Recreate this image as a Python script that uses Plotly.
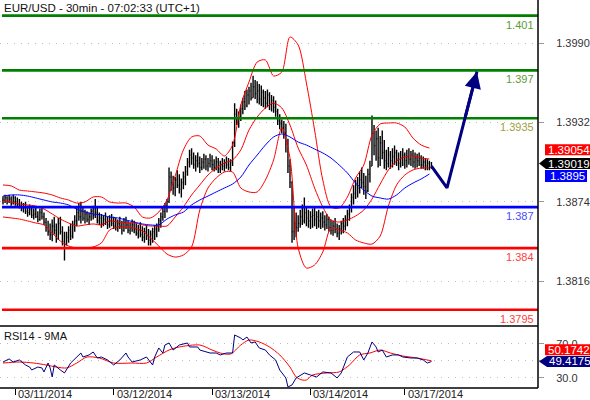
"""EUR/USD 30min chart with Bollinger bands, MA, levels and RSI panel."""

import plotly.graph_objects as go

# price values are kept in pips above BASE (1.3800)
BASE = 1.38

DATES = ["03/11/2014", "03/12/2014", "03/13/2014", "03/14/2014", "03/17/2014"]
DATE_BARS = [6, 54, 102, 150, 196]

HIGHS = [78, 79, 78, 79, 78, 79, 78, 77, 76,
         74, 73, 74, 71, 72, 70, 69, 70, 67, 69, 70, 66,
         62, 60, 58, 61, 63, 58, 62, 63, 56, 52,
         52, 56, 58, 60, 64, 70, 73, 74,
         70, 68, 67, 66, 69, 71, 76, 70,
         66, 65, 64, 66, 63, 64, 65, 63, 62,
         61, 63, 60, 62, 63, 60, 59, 61, 60,
         58, 57, 59, 56, 55, 57, 54, 53,
         55, 57, 58, 62, 66, 70, 73, 76,
         99, 96, 93, 92, 97, 94, 91, 96, 100,
         106, 112, 113,
         110, 108, 110, 107, 106, 109, 108, 106, 109, 108, 105, 107, 106, 104, 106, 105, 107, 106, 105,
         118, 146, 142, 140, 145, 150, 155,
         156, 158, 161, 166, 163, 162, 160, 159,
         156, 155, 156, 154, 152, 151, 148,
         142, 138, 134, 133,
         131, 120, 105,
         89, 70, 66,
         64, 68, 72, 77, 70, 68, 67,
         69, 70, 67, 68, 66, 67, 64, 65, 63,
         61, 60, 62, 58, 57, 60, 62, 64,
         68, 72, 80, 86, 90,
         92, 96, 99, 95, 93, 98, 104,
         137, 130, 126, 128, 122, 126, 119,
         112, 114, 111, 113, 115, 112, 110,
         111, 113, 110, 112, 113, 111, 112, 110,
         109, 110, 108, 107, 106, 105, 104, 103]
LOWS = [72, 73, 72, 73, 71, 72, 71, 70, 69,
        67, 66, 65, 63, 64, 62, 61, 62, 59, 60, 61, 57,
        52, 49, 46, 45, 50, 44, 46, 50, 42, 31,
        42, 44, 46, 47, 52, 56, 60, 58,
        60, 58, 59, 57, 60, 61, 62, 58,
        57, 55, 56, 57, 54, 55, 56, 54, 53,
        52, 54, 50, 52, 54, 51, 50, 52, 51,
        49, 47, 48, 45, 44, 46, 42, 42,
        44, 46, 48, 52, 55, 60, 62, 66,
        73, 82, 79, 78, 84, 80, 77, 83, 86,
        93, 99, 101,
        98, 96, 99, 95, 97, 98, 97, 96, 99, 97, 96, 97, 95, 95, 97, 96, 98, 97, 96,
        100, 114, 130, 128, 133, 138, 141,
        143, 145, 148, 150, 149, 146, 145, 144,
        143, 142, 143, 141, 140, 139, 136,
        130, 127, 124, 120,
        110, 95, 84,
        44, 46, 48,
        52, 55, 57, 58, 56, 55, 54,
        55, 56, 54, 55, 54, 55, 53, 54, 52,
        50, 49, 51, 48, 46, 50, 51, 53,
        56, 60, 66, 72, 76,
        77, 80, 84, 79, 76, 81, 88,
        100, 108, 104, 99, 100, 105, 98,
        97, 99, 98, 99, 101, 100, 97,
        99, 100, 98, 99, 101, 100, 99, 98,
        99, 100, 98, 98, 97, 97, 97, 98]
CLOSES = [75, 77, 74, 76, 73, 77, 74, 72, 71,
          69, 70, 67, 66, 68, 64, 65, 63, 61, 66, 63, 59,
          55, 52, 50, 56, 53, 47, 58, 52, 45, 43,
          48, 53, 49, 57, 60, 66, 63, 67,
          62, 65, 61, 63, 67, 64, 66, 60,
          62, 58, 61, 59, 57, 60, 58, 56, 55,
          58, 56, 53, 59, 57, 53, 55, 57, 54,
          51, 53, 50, 48, 52, 49, 46, 50,
          52, 54, 56, 60, 63, 67, 71, 74,
          92, 88, 84, 90, 86, 83, 88, 92, 96,
          103, 108, 106,
          101, 104, 102, 99, 103, 105, 100, 102, 104, 101, 99, 103, 98, 101, 100, 102, 101, 99, 103,
          115, 138, 134, 136, 142, 147, 144,
          152, 155, 150, 158, 153, 155, 149, 154,
          150, 146, 152, 145, 148, 143, 140,
          133, 131, 128, 124,
          116, 100, 88,
          52, 58, 55,
          58, 63, 60, 66, 62, 60, 63,
          64, 61, 63, 60, 62, 59, 57, 61, 55,
          53, 56, 54, 51, 54, 58, 56, 61,
          65, 70, 77, 80, 86,
          84, 90, 88, 85, 82, 94, 100,
          124, 115, 120, 106, 117, 110, 104,
          102, 108, 104, 107, 110, 105, 102,
          106, 108, 104, 107, 105, 108, 103, 106,
          104, 106, 101, 103, 100, 102, 99, 100]

# indicator lines read every 4 bars
BAND_BARS = list(range(0, 209, 4))
BB_UPPER = [86.2, 85.5, 82.5, 81.8, 81.1, 80.3, 78.9, 76.7, 75.2, 73.0,
            73.8, 77.4, 77.4, 73.8, 73.0, 73.0, 70.1, 62.8, 62.1, 66.4,
            75.2, 92.8, 111.8, 121.3, 122.0, 115.4, 112.5, 107.4, 115.4, 144.7,
            161.5, 176.1, 177.6, 165.9, 168.8, 194.4, 188.5, 160.8, 126.4, 89.8,
            70.1, 69.4, 77.4, 91.3, 100.8, 122.7, 130.8, 131.5, 131.5, 128.6,
            120.5, 115.4, 113.2]
BB_MID = [74.5, 73.8, 72.3, 71.6, 70.8, 68.6, 65.0, 61.3, 58.4, 56.2,
          57.0, 57.7, 57.0, 59.9, 59.1, 58.4, 58.4, 57.0, 56.2, 56.2,
          56.2, 62.8, 70.1, 78.9, 86.2, 93.5, 98.6, 102.3, 104.5, 111.8,
          126.4, 135.9, 142.5, 146.1, 142.5, 130.0, 113.2, 100.8, 84.0, 70.1,
          60.6, 59.1, 60.6, 63.5, 67.9, 75.9, 86.9, 97.2, 103.7, 106.7,
          107.4, 105.9, 105.2]
BB_LOWER = [62.8, 62.1, 61.3, 59.9, 58.4, 57.0, 51.1, 45.2, 41.6, 40.1,
            40.1, 40.9, 43.8, 53.3, 55.5, 55.5, 54.7, 52.6, 47.4, 41.6,
            35.7, 33.5, 35.0, 40.9, 67.9, 84.0, 91.3, 95.7, 95.7, 84.0,
            81.1, 81.1, 89.8, 104.5, 127.9, 105.9, 40.1, 25.5, 27.7, 37.2,
            54.7, 53.3, 51.1, 46.0, 43.8, 43.0, 48.9, 70.8, 86.2, 93.5,
            97.2, 98.6, 98.6]
MA_BLUE = [78.1, 78.9, 78.9, 78.1, 76.7, 75.2, 73.8, 73.0, 71.6, 68.6,
           66.4, 65.0, 64.3, 62.8, 62.1, 60.6, 59.1, 57.7, 57.0, 57.0,
           61.3, 64.3, 66.4, 71.6, 75.2, 78.1, 81.1, 84.0, 86.9, 92.0,
           100.8, 108.1, 115.4, 121.3, 123.5, 121.3, 117.6, 115.4, 112.5, 109.6,
           105.9, 100.8, 95.0, 87.6, 82.5, 78.1, 76.7, 75.9, 78.9, 84.0,
           87.6, 90.6, 94.2]

RSI_BARS = [0, 3, 5, 8, 11, 13, 14, 17, 19, 20, 22, 23, 24, 25, 28, 30, 33, 36, 38, 39,
            42, 44, 46, 48, 51, 54, 57, 60, 61, 63, 67, 70, 73, 74, 76, 78, 79, 81, 83, 86,
            90, 91, 95, 96, 99, 101, 104, 106, 109, 112, 113, 116, 117, 119, 121, 123, 125, 128, 130, 133,
            135, 138, 139, 141, 143, 147, 150, 153, 156, 160, 163, 165, 168, 171, 174, 176, 178, 180, 182, 183,
            185, 187, 190, 193, 195, 199, 202, 205, 207, 209]
RSI = [48.8, 52.4, 48.8, 51.2, 45.3, 42.9, 39.4, 42.9, 41.8, 37.1,
       47.6, 41.8, 31.2, 45.3, 39.4, 35.9, 47.6, 54.7, 59.4, 54.7,
       57.1, 60.6, 53.5, 54.7, 51.2, 45.3, 51.2, 59.4, 54.7, 48.8,
       51.2, 54.7, 45.3, 54.7, 65.3, 59.4, 68.8, 71.2, 62.9, 68.8,
       71.2, 66.5, 66.5, 62.9, 60.6, 59.4, 59.4, 57.1, 59.4, 59.4,
       80.6, 77.1, 74.7, 78.2, 71.2, 72.4, 65.3, 62.9, 57.1, 51.2,
       39.4, 30.0, 19.4, 21.8, 30.0, 35.9, 33.5, 31.2, 37.1, 35.9,
       30.0, 35.9, 54.7, 60.6, 60.6, 51.2, 59.4, 72.4, 66.5, 60.6,
       62.9, 54.7, 57.1, 57.1, 54.7, 53.5, 53.5, 51.2, 47.6, 49.4]
RSI_MA_BARS = [0, 8, 15, 21, 26, 31, 36, 41, 47, 54, 63, 70, 75, 81, 86, 96, 102, 106, 111, 116,
               120, 125, 130, 135, 140, 143, 146, 148, 151, 158, 164, 169, 174, 179, 184, 189, 195, 202, 209]
RSI_MA = [47.6, 48.8, 47.6, 45.3, 42.9, 41.8, 47.6, 54.7, 53.5, 47.6,
          47.6, 47.6, 54.7, 62.9, 66.5, 68.8, 62.9, 59.4, 58.2, 68.8,
          74.7, 72.4, 66.5, 57.1, 42.9, 31.2, 27.6, 27.6, 33.5, 35.9,
          37.1, 45.3, 57.1, 59.4, 62.9, 59.4, 55.9, 53.5, 50.2]

LEVELS = [1.401, 1.397, 1.3935, 1.387, 1.384, 1.3795]
LEVEL_COLORS = ["#008000", "#008000", "#008000", "#0000ff", "#ff0000", "#ff0000"]
LEVEL_TEXT = ["#5f9a36", "#5f9a36", "#a0a040", "#4a4aff", "#ff4040", "#ff4040"]

FORECAST_BARS = [209, 216.6, 231.2]
FORECAST_PIPS = [100, 84, 169]

PRICE_TICKS = [1.3816, 1.3874, 1.3932, 1.3990]
LAST_MID = 1.39054
LAST_CLOSE = 1.39019
LAST_MA = 1.3895
LAST_RSI_MA = 50.1742
LAST_RSI = 49.4175

X_RANGE = [-1.46, 260.98]
Y_RANGE = [1.37831, 1.402144]
RSI_RANGE = [18.2, 90.0]
FONT = "Liberation Sans, Arial, sans-serif"


def price(vals):
    return [BASE + v / 10000 for v in vals]


bars = list(range(len(CLOSES)))
opens = [CLOSES[0]] + CLOSES[:-1]

fig = go.Figure()
for series, color in [(BB_UPPER, "#ff0000"), (BB_MID, "#ff0000"),
                      (BB_LOWER, "#ff0000"), (MA_BLUE, "#0000ff")]:
    fig.add_scatter(x=BAND_BARS, y=price(series), mode="lines",
                    line=dict(color=color, width=1, shape="spline", smoothing=0.8),
                    hoverinfo="skip", showlegend=False)

fig.add_trace(go.Ohlc(
    x=bars, open=price(opens), high=price(HIGHS), low=price(LOWS), close=price(CLOSES),
    increasing_line_color="black", decreasing_line_color="black",
    line_width=1.4, tickwidth=0.4, showlegend=False, hoverinfo="skip",
))

for lvl, col, tcol in zip(LEVELS, LEVEL_COLORS, LEVEL_TEXT):
    fig.add_scatter(x=[-0.5, X_RANGE[1]], y=[lvl, lvl], mode="lines",
                    line=dict(color=col, width=2.6), hoverinfo="skip", showlegend=False)
    fig.add_annotation(x=X_RANGE[1], y=lvl, xref="x", yref="y", text=str(lvl),
                       showarrow=False, xanchor="right", yanchor="top", xshift=-2, yshift=-1,
                       font=dict(color=tcol, size=11, family=FONT))

# forecast path with arrow head
fig.add_scatter(x=FORECAST_BARS, y=price(FORECAST_PIPS), mode="lines",
                line=dict(color="#000080", width=3), hoverinfo="skip", showlegend=False)
tail_x = FORECAST_BARS[1] + 0.6 * (FORECAST_BARS[2] - FORECAST_BARS[1])
tail_y = FORECAST_PIPS[1] + 0.6 * (FORECAST_PIPS[2] - FORECAST_PIPS[1])
fig.add_annotation(x=FORECAST_BARS[2], y=price([FORECAST_PIPS[2]])[0],
                   ax=tail_x, ay=price([tail_y])[0], axref="x", ayref="y",
                   xref="x", yref="y", text="", showarrow=True, arrowhead=2,
                   arrowsize=1.1, arrowwidth=3, arrowcolor="#000080", standoff=0)

# RSI panel
fig.add_scatter(x=RSI_MA_BARS, y=RSI_MA, yaxis="y2", mode="lines",
                line=dict(color="#ff0000", width=1, shape="spline", smoothing=0.8),
                hoverinfo="skip", showlegend=False)
fig.add_scatter(x=RSI_BARS, y=RSI, yaxis="y2", mode="lines",
                line=dict(color="#000080", width=1), hoverinfo="skip", showlegend=False)


def value_box(yref, value, text, dy, x0, x1, h, color, arrow=False):
    top, bot = dy + h / 2, dy - h / 2
    if arrow:
        path = f"M 1,{dy} L {x0},{top} L {x1},{top} L {x1},{bot} L {x0},{bot} Z"
    else:
        path = f"M {x0},{top} L {x1},{top} L {x1},{bot} L {x0},{bot} Z"
    fig.add_shape(type="path", path=path, xref="paper", yref=yref,
                  xsizemode="pixel", ysizemode="pixel", xanchor=1, yanchor=value,
                  fillcolor=color, line_width=0, layer="above")
    fig.add_annotation(x=1, y=value, xref="paper", yref=yref, text=text, showarrow=False,
                       xshift=(x0 + x1) / 2 + 1, yshift=dy, xanchor="center", yanchor="middle",
                       font=dict(color="white", size=11.5, family=FONT))


value_box("y", LAST_MID, f"{LAST_MID:.5f}", 9, 7, 52, 11, "#ff0000")
value_box("y", LAST_CLOSE, f"{LAST_CLOSE:.5f}", 0, 8, 52, 11, "#000000", arrow=True)
value_box("y", LAST_MA, f"{LAST_MA:.4f}", -3, 7, 49, 12, "#0000ff")
value_box("y2", LAST_RSI_MA, f"{LAST_RSI_MA:.4f}", 11, 7, 52, 11, "#ff0000")
value_box("y2", LAST_RSI, f"{LAST_RSI:.4f}", 0, 9, 52, 11, "#000080", arrow=True)

# panel borders
main_bottom = 1 - 326 / 388
for x0, y0, x1, y1 in [(1, 0, 1, 1), (0, main_bottom, 1, main_bottom), (0, 0, 1, 0)]:
    fig.add_shape(type="line", xref="paper", yref="paper", x0=x0, y0=y0, x1=x1, y1=y1,
                  line=dict(color="black", width=1.5), layer="above")

# date labels sit to the right of their tick marks
for bar, label in zip(DATE_BARS, DATES):
    fig.add_annotation(x=bar, y=0, xref="x", yref="paper", text=label, showarrow=False,
                       xanchor="left", yanchor="middle", xshift=2, yshift=-6,
                       borderpad=0, font=dict(color="#222222", size=11, family=FONT))

fig.add_annotation(x=0.004, y=1, xref="paper", yref="paper", xanchor="left", yanchor="top",
                   text="EUR/USD - 30min - 07:02:33 (UTC+1)", showarrow=False,
                   font=dict(color="#111111", size=11.5, family=FONT))
fig.add_annotation(x=0.004, y=1 - 327 / 388, xref="paper", yref="paper", xanchor="left",
                   yanchor="top", text="RSI14 - 9MA", showarrow=False, yshift=-1,
                   font=dict(color="#111111", size=11, family=FONT))

grid = dict(showgrid=True, gridcolor="#bdbdbd", griddash="1px,6px", zeroline=False)
fig.update_layout(
    template="none",
    width=590, height=400,
    margin=dict(l=0, r=52, t=0, b=12),
    paper_bgcolor="white", plot_bgcolor="white",
    font=dict(family=FONT, size=11, color="#333333"),
    showlegend=False,
    xaxis=dict(range=X_RANGE, anchor="y2", tickvals=DATE_BARS, showticklabels=False,
               ticks="outside", ticklen=6, tickcolor="black", showgrid=False,
               zeroline=False, showline=False, rangeslider=dict(visible=False),
               automargin=False),
    yaxis=dict(domain=[main_bottom, 1], range=Y_RANGE, side="right", anchor="x",
               tickvals=PRICE_TICKS, tickformat=".4f", ticks="outside", ticklen=5,
               tickcolor="#999999", ticklabelstandoff=10, automargin=False, **grid),
    yaxis2=dict(domain=[0, 1 - 327 / 388], range=RSI_RANGE, side="right", anchor="x",
                tickvals=[30, 50, 70], ticktext=["30.0", "", "70.0"], ticks="outside",
                ticklen=5, tickcolor="#999999", ticklabelstandoff=10, automargin=False, **grid),
)

# the page's default body margin would push the fixed-size figure off the window
fig.write_html("out.html", config={"displayModeBar": False},
               post_script="document.body.style.margin='0';")
